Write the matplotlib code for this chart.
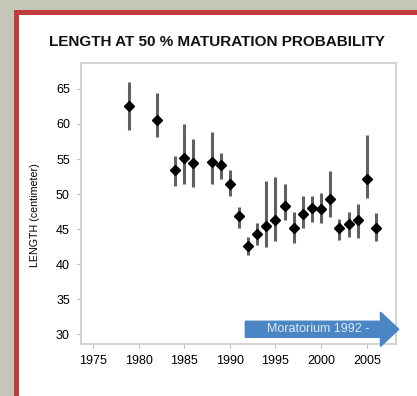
import matplotlib

matplotlib.use("Agg")
import matplotlib.pyplot as plt
from matplotlib.patches import Rectangle, FancyArrow

plt.rcParams["font.family"] = ["Liberation Sans", "DejaVu Sans"]

years = [1979, 1982, 1984, 1985, 1986, 1988, 1989, 1990, 1991, 1992, 1993,
         1994, 1995, 1996, 1997, 1998, 1999, 2000, 2001, 2002, 2003, 2004,
         2005, 2006]
length50 = [62.5, 60.5, 53.4, 55.2, 54.4, 54.6, 54.1, 51.5, 46.8, 42.6, 44.3,
            45.4, 46.3, 48.3, 45.2, 47.1, 48.0, 47.8, 49.3, 45.1, 45.7, 46.3,
            52.2, 45.2]
ci_low = [59.1, 58.1, 51.1, 51.4, 51.0, 51.5, 52.2, 49.7, 45.2, 41.3, 42.7,
          42.5, 43.3, 46.3, 43.0, 45.1, 46.0, 45.8, 46.7, 43.5, 43.8, 43.7,
          49.4, 43.3]
ci_high = [66.0, 64.4, 55.4, 60.0, 57.8, 58.8, 55.8, 53.4, 48.1, 43.8, 45.9,
           51.8, 52.5, 51.4, 47.5, 49.7, 49.7, 50.1, 53.3, 46.5, 47.5, 48.6,
           58.4, 47.3]
xticks = [1975, 1980, 1985, 1990, 1995, 2000, 2005]
yticks = [30, 35, 40, 45, 50, 55, 60, 65]
moratorium_year = 1992

W, H = 417, 396
fig = plt.figure(figsize=(W / 100, H / 100), dpi=100)
fig.patch.set_facecolor("#c6c6b8")

# red frame and white panel
fig.add_artist(Rectangle((14 / W, 0), 1, 1 - 10 / H, transform=fig.transFigure,
                         facecolor="#bf3a3a", edgecolor="none", zorder=-2))
fig.add_artist(Rectangle((19 / W, 0), 1, 1 - 15 / H, transform=fig.transFigure,
                         facecolor="white", edgecolor="none", zorder=-1))

ax = fig.add_axes([81 / W, 1 - 344 / H, 315 / W, 281 / H])
ax.set_xlim(1973.7, 2008.2)
ax.set_ylim(28.6, 68.7)

for yr, lo, hi in zip(years, ci_low, ci_high):
    ax.plot([yr, yr], [lo, hi], color="#606060", linewidth=2.2,
            solid_capstyle="butt", zorder=2)
ax.plot(years, length50, linestyle="none", marker="D", markersize=5.3,
        color="black", zorder=3)

arrow = FancyArrow(moratorium_year - 0.3, 30.7, 2008.5 - moratorium_year + 0.3 - 2.0, 0,
                   width=2.3, head_width=4.9, head_length=2.0,
                   length_includes_head=False, color="#4b86c4",
                   clip_on=False, zorder=4)
ax.add_patch(arrow)
ax.text(1999.65, 30.75, "Moratorium 1992 -", color="#dde8f5", fontsize=9,
        ha="center", va="center", zorder=5)

ax.set_xticks(xticks)
ax.set_yticks(yticks)
for side in ["left", "bottom", "right", "top"]:
    ax.spines[side].set_color("#cccccc")
    ax.spines[side].set_linewidth(1.2)
ax.tick_params(direction="out", length=3, color="#bbbbbb", labelsize=9,
               labelcolor="black", pad=5)

fig.text(217 / W, 1 - 42 / H, "LENGTH AT 50 % MATURATION PROBABILITY",
         fontsize=11, fontweight="bold", ha="center", va="center",
         color="#111111")
fig.text(35 / W, 1 - 215 / H, "LENGTH (centimeter)", fontsize=7.7,
         rotation=90, ha="center", va="center")

fig.savefig("out.png", dpi=100)
